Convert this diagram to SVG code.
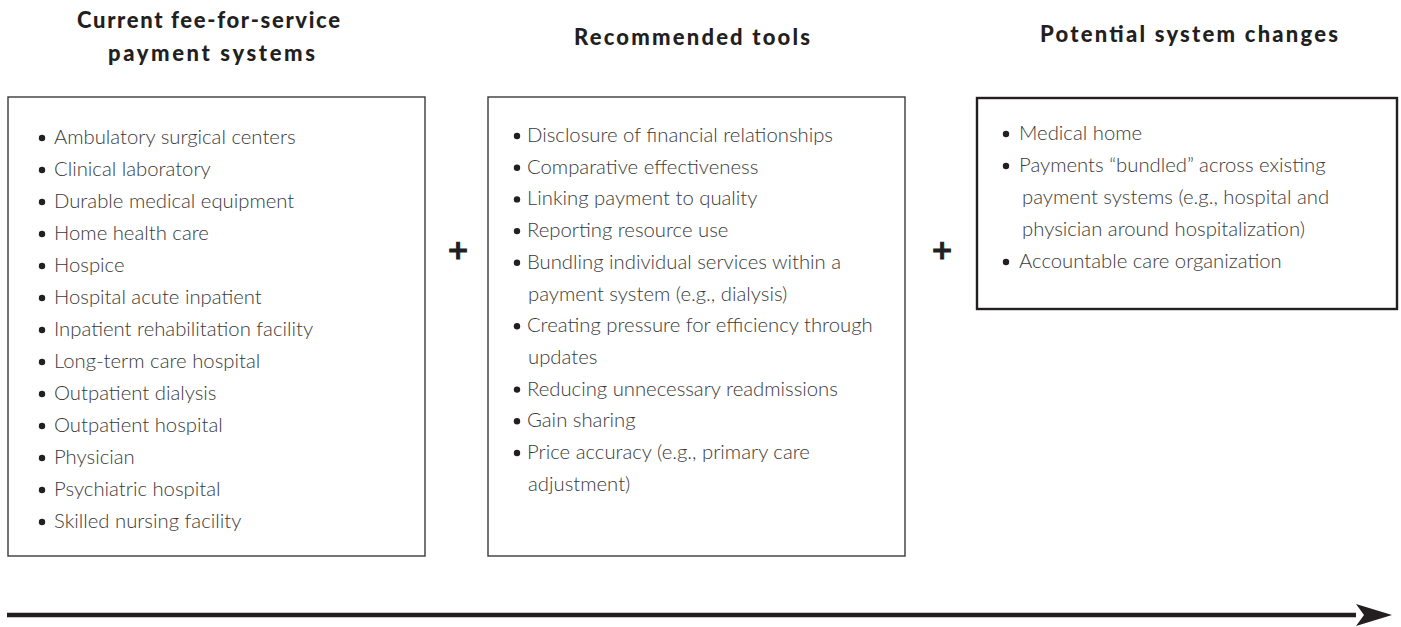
<svg xmlns="http://www.w3.org/2000/svg" width="1401" height="627" viewBox="0 0 1401 627">
  <style>
    .hdr { font-family: "Lato", "Liberation Sans", sans-serif; font-weight: 900; font-size: 22px; fill: #231f20; text-anchor: middle; }
    .item { font-family: "Lato", "Liberation Sans", sans-serif; font-weight: 300; font-size: 20.3px; fill: #3a3a3a; }
    .box { fill: #ffffff; stroke: #3a3a3a; stroke-width: 1.4; }
    .box-strong { fill: #ffffff; stroke: #231f20; stroke-width: 2.4; }
    .dot { fill: #231f20; }
    .plus { font-family: "DejaVu Sans", "Liberation Sans", sans-serif; font-weight: bold; font-size: 27px; fill: #231f20; stroke: #231f20; stroke-width: 0.9; text-anchor: middle; }
  </style>
  <defs>
    <marker id="arrowhead" viewBox="0 0 36 22" refX="0" refY="11" markerWidth="36" markerHeight="22" markerUnits="userSpaceOnUse" orient="auto">
      <path d="M0,0 L36,11 L0,22 L8,11 Z" fill="#231f20"/>
    </marker>
  </defs>
  <rect width="1401" height="627" fill="#ffffff"/>

  <!-- Column 1: current fee-for-service payment systems -->
  <g id="current-systems">
    <text class="hdr" x="208.5" y="28" textLength="263" lengthAdjust="spacing">Current fee-for-service</text>
    <text class="hdr" x="211.5" y="61" textLength="207" lengthAdjust="spacing">payment systems</text>
    <rect class="box" x="8" y="97" width="417" height="459"/>
    <g class="dot">
      <circle cx="42" cy="138" r="3.2"/><circle cx="42" cy="170" r="3.2"/><circle cx="42" cy="202" r="3.2"/>
      <circle cx="42" cy="234" r="3.2"/><circle cx="42" cy="266" r="3.2"/><circle cx="42" cy="298" r="3.2"/>
      <circle cx="42" cy="330" r="3.2"/><circle cx="42" cy="362" r="3.2"/><circle cx="42" cy="394" r="3.2"/>
      <circle cx="42" cy="426" r="3.2"/><circle cx="42" cy="458" r="3.2"/><circle cx="42" cy="490" r="3.2"/>
      <circle cx="42" cy="522" r="3.2"/>
    </g>
    <text class="item" x="54" y="144">Ambulatory surgical centers</text>
    <text class="item" x="54" y="176">Clinical laboratory</text>
    <text class="item" x="54" y="208">Durable medical equipment</text>
    <text class="item" x="54" y="240">Home health care</text>
    <text class="item" x="54" y="272">Hospice</text>
    <text class="item" x="54" y="304">Hospital acute inpatient</text>
    <text class="item" x="54" y="336">Inpatient rehabilitation facility</text>
    <text class="item" x="54" y="368">Long-term care hospital</text>
    <text class="item" x="54" y="400">Outpatient dialysis</text>
    <text class="item" x="54" y="432">Outpatient hospital</text>
    <text class="item" x="54" y="464">Physician</text>
    <text class="item" x="54" y="496">Psychiatric hospital</text>
    <text class="item" x="54" y="528">Skilled nursing facility</text>
  </g>

  <!-- Column 2: recommended tools -->
  <g id="recommended-tools">
    <text class="hdr" x="692" y="45" textLength="236" lengthAdjust="spacing">Recommended tools</text>
    <rect class="box" x="488" y="97" width="417" height="459"/>
    <g class="dot">
      <circle cx="517" cy="136" r="3.2"/><circle cx="517" cy="167.7" r="3.2"/><circle cx="517" cy="199.4" r="3.2"/>
      <circle cx="517" cy="231.1" r="3.2"/><circle cx="517" cy="262.8" r="3.2"/><circle cx="517" cy="326.2" r="3.2"/>
      <circle cx="517" cy="389.6" r="3.2"/><circle cx="517" cy="421.3" r="3.2"/><circle cx="517" cy="453" r="3.2"/>
    </g>
    <text class="item" x="527" y="142">Disclosure of financial relationships</text>
    <text class="item" x="527" y="173.7">Comparative effectiveness</text>
    <text class="item" x="527" y="205.4">Linking payment to quality</text>
    <text class="item" x="527" y="237.1">Reporting resource use</text>
    <text class="item" x="527" y="268.8">Bundling individual services within a</text>
    <text class="item" x="528" y="300.5">payment system (e.g., dialysis)</text>
    <text class="item" x="527" y="332.2">Creating pressure for efficiency through</text>
    <text class="item" x="528" y="363.9">updates</text>
    <text class="item" x="527" y="395.6">Reducing unnecessary readmissions</text>
    <text class="item" x="527" y="427.3">Gain sharing</text>
    <text class="item" x="527" y="459">Price accuracy (e.g., primary care</text>
    <text class="item" x="528" y="490.7">adjustment)</text>
  </g>

  <!-- Column 3: potential system changes -->
  <g id="potential-changes">
    <text class="hdr" x="1189" y="42" textLength="298" lengthAdjust="spacing">Potential system changes</text>
    <rect class="box-strong" x="977" y="98" width="420" height="211"/>
    <g class="dot">
      <circle cx="1006" cy="134" r="3.2"/><circle cx="1006" cy="166" r="3.2"/><circle cx="1006" cy="262" r="3.2"/>
    </g>
    <text class="item" x="1019" y="140">Medical home</text>
    <text class="item" x="1019" y="172">Payments “bundled” across existing</text>
    <text class="item" x="1022" y="204">payment systems (e.g., hospital and</text>
    <text class="item" x="1022" y="236">physician around hospitalization)</text>
    <text class="item" x="1019" y="268">Accountable care organization</text>
  </g>

  <!-- Connectors: plus signs between columns and the timeline arrow -->
  <g id="connectors">
    <text class="plus" x="458" y="259">+</text>
    <text class="plus" x="942" y="259">+</text>
    <line x1="7" y1="615" x2="1356" y2="615" stroke="#231f20" stroke-width="4.6" marker-end="url(#arrowhead)"/>
  </g>
</svg>
